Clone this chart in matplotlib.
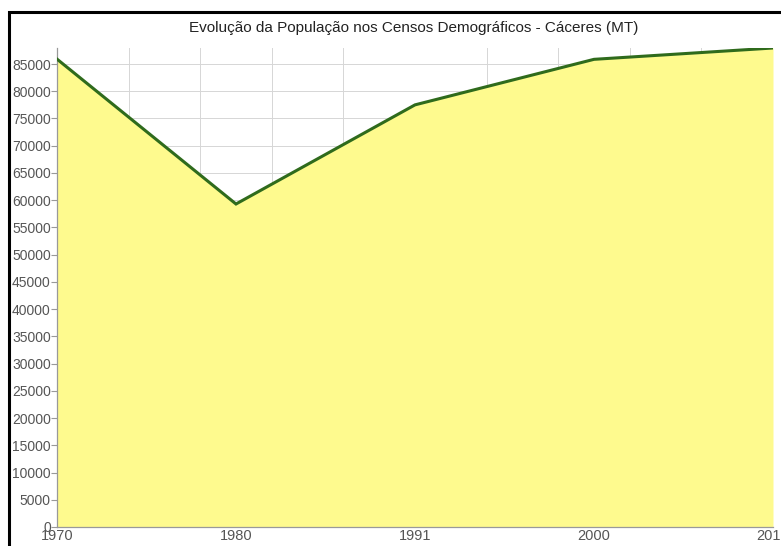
import matplotlib.pyplot as plt
import matplotlib.patches as patches
import numpy as np

plt.rcParams['font.family'] = ['Liberation Sans', 'DejaVu Sans']

# census data - Cáceres (MT)
years = ['1970', '1980', '1991', '2000', '2010']
population = [85900, 59300, 77500, 85860, 87940]
y_ticks = list(range(0, 85001, 5000))

fig = plt.figure(figsize=(7.81, 5.46), dpi=100)
ax = fig.add_axes([57 / 781, 19 / 546, 716 / 781, 479 / 546])

x = np.arange(len(years))
ax.fill_between(x, population, 0, color='#fefa8e', zorder=2, linewidth=0)
ax.plot(x, population, color='#2f6b1c', linewidth=2.2, zorder=3, solid_joinstyle='miter')

ax.set_xlim(0, len(years) - 1)
ax.set_ylim(0, max(population))

# grid
ax.set_yticks(y_ticks)
ax.set_xticks(x)
ax.set_xticks(np.linspace(0, len(years) - 1, 11), minor=True)
ax.grid(True, axis='y', color='#d6d6d6', linewidth=0.7, zorder=1)
ax.grid(True, axis='x', which='minor', color='#d6d6d6', linewidth=0.7, zorder=1)
ax.tick_params(axis='x', which='both', length=0, labelsize=10.5, colors='#555555', pad=1.5)
ax.tick_params(axis='y', length=4, width=0.8, color='#999999', labelsize=10,
               labelcolor='#555555', pad=0.5)
ax.set_xticklabels(years)

for side in ['top', 'right']:
    ax.spines[side].set_visible(False)
for side in ['left', 'bottom']:
    ax.spines[side].set_color('#999999')
    ax.spines[side].set_linewidth(0.9)

fig.text(414 / 781, 1 - 28 / 546,
         'Evolução da População nos Censos Demográficos - Cáceres (MT)',
         ha='center', va='center', fontsize=11, color='#222222')

# black frame around the chart
frame = patches.Rectangle((8.5 / 781, -0.1), 1.2, 1.1 - 12.5 / 546,
                          transform=fig.transFigure, fill=False,
                          edgecolor='black', linewidth=2.2)
fig.patches.append(frame)

fig.savefig('out.png', dpi=100)
